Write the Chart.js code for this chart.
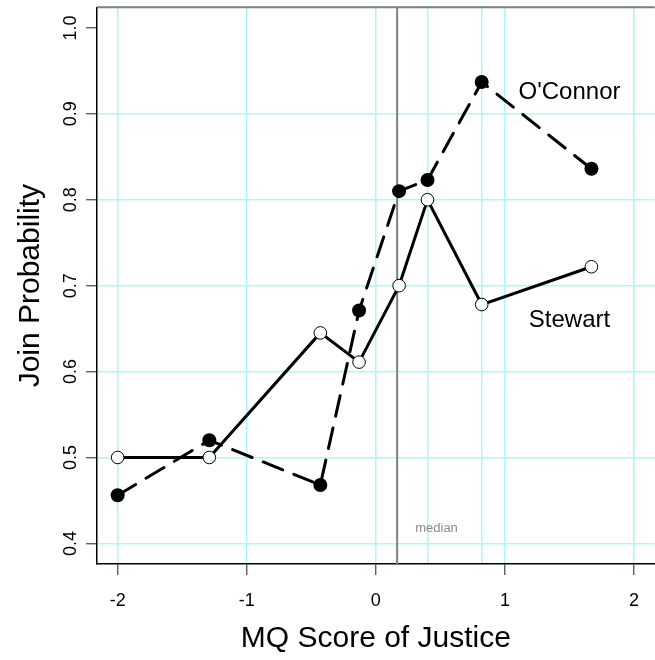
<!DOCTYPE html>
<html><head><meta charset="utf-8">
<script src="https://cdn.jsdelivr.net/npm/chart.js@4/dist/chart.umd.min.js"></script>
<style>html,body{margin:0;padding:0;background:#fff;overflow:hidden;width:655px;height:660px}canvas{display:block}</style>
</head><body>
<canvas id="c" width="662" height="660"></canvas>
<script>
// ---- data ----
const xScores   = [-2.00, -1.29, -0.43, -0.13, 0.18, 0.40, 0.82, 1.67];
const stewart   = [0.500, 0.500, 0.645, 0.611, 0.700, 0.800, 0.678, 0.722];
const oconnor   = [0.456, 0.520, 0.468, 0.671, 0.810, 0.823, 0.937, 0.836];
const xTicks    = [-2, -1, 0, 1, 2];
const xExtraGrid = [0.40, 0.82];
const yTicks    = [0.4, 0.5, 0.6, 0.7, 0.8, 0.9, 1.0];
const yGridMax  = 0.9;
const medianScore = 0.165;
const seriesNames = ["O'Connor", "Stewart"];
const seriesLabelX = [1.5, 1.5];
const seriesLabelY = [0.925, 0.66];
const medianText = "median";
const medianTextPos = [0.47, 0.417];
const xRange = [-2.16, 2.16];
const yRange = [0.376, 1.024];
const xTitle = "MQ Score of Justice";
const yTitle = "Join Probability";

const FONT = '"Liberation Sans", Arial, Helvetica, sans-serif';
const GRID = '#a8fafa';

const toPts = ys => xScores.map((x, i) => ({x, y: ys[i]}));

const overlay = {
  id: 'overlay',
  beforeDatasetsDraw(chart) {
    const {ctx, chartArea: a, scales: {x, y}} = chart;
    ctx.save();
    ctx.strokeStyle = '#7f7f7f';
    ctx.lineWidth = 2;
    ctx.beginPath();
    const mx = x.getPixelForValue(medianScore);
    ctx.moveTo(mx, a.top); ctx.lineTo(mx, a.bottom);
    ctx.moveTo(a.left, a.top); ctx.lineTo(a.right, a.top);
    ctx.stroke();
    ctx.fillStyle = '#8a8a8a';
    ctx.font = '13px ' + FONT;
    ctx.textAlign = 'center'; ctx.textBaseline = 'middle';
    ctx.fillText(medianText, x.getPixelForValue(medianTextPos[0]), y.getPixelForValue(medianTextPos[1]));
    ctx.restore();
  },
  afterDraw(chart) {
    const {ctx, scales: {x, y}} = chart;
    ctx.save();
    ctx.fillStyle = '#000';
    ctx.font = '18px ' + FONT;
    ctx.textAlign = 'center'; ctx.textBaseline = 'middle';
    y.ticks.forEach(t => {
      ctx.save();
      ctx.translate(71, y.getPixelForValue(t.value));
      ctx.rotate(-Math.PI / 2);
      ctx.fillText(t.value.toFixed(1), 0, 0);
      ctx.restore();
    });
    ctx.font = '24px ' + FONT;
    seriesNames.forEach((n, i) => {
      ctx.fillText(n, x.getPixelForValue(seriesLabelX[i]), y.getPixelForValue(seriesLabelY[i]));
    });
    ctx.restore();
  }
};

new Chart(document.getElementById('c'), {
  type: 'scatter',
  data: {
    datasets: [
      {
        label: seriesNames[0], data: toPts(oconnor), showLine: true,
        borderColor: '#000', borderWidth: 3, borderDash: [21, 12], borderCapStyle: 'round',
        pointRadius: 7, pointBackgroundColor: '#000', pointBorderWidth: 0, pointBorderColor: '#000',
        tension: 0, order: 2
      },
      {
        label: seriesNames[1], data: toPts(stewart), showLine: true,
        borderColor: '#000', borderWidth: 3, borderCapStyle: 'round',
        pointRadius: 6.3, pointBackgroundColor: '#fff', pointBorderWidth: 1, pointBorderColor: '#000',
        tension: 0, order: 1
      }
    ]
  },
  options: {
    responsive: false, animation: false, devicePixelRatio: 1,
    layout: {padding: {top: 7, left: 0, right: 0, bottom: 0}},
    plugins: {legend: {display: false}, tooltip: {enabled: false}},
    scales: {
      x: {
        type: 'linear', min: xRange[0], max: xRange[1],
        afterBuildTicks: s => { s.ticks = xTicks.concat(xExtraGrid).map(v => ({value: v})); },
        afterFit: s => { s.height = 96; },
        grid: {
          color: GRID, lineWidth: 1.5, drawTicks: true, tickLength: 11, tickWidth: 1.2,
          tickColor: c => (c.tick && xTicks.includes(c.tick.value)) ? '#444' : 'rgba(0,0,0,0)'
        },
        border: {display: true, color: '#000', width: 1.5},
        ticks: {
          color: '#000', font: {family: FONT, size: 18}, padding: 15, maxRotation: 0,
          callback: v => xTicks.includes(v) ? String(v) : ''
        },
        title: {display: true, text: xTitle, color: '#000', font: {family: FONT, size: 30}, padding: {top: 0, bottom: 3}}
      },
      y: {
        type: 'linear', min: yRange[0], max: yRange[1],
        afterBuildTicks: s => { s.ticks = yTicks.map(v => ({value: v})); },
        afterFit: s => { s.width = 97; },
        grid: {
          color: c => (c.tick && c.tick.value <= yGridMax + 1e-9) ? GRID : 'rgba(0,0,0,0)',
          lineWidth: 1.5, drawTicks: true, tickLength: 11, tickWidth: 1.2, tickColor: '#444'
        },
        border: {display: true, color: '#000', width: 1.5},
        ticks: {display: false},
        title: {display: true, text: yTitle, color: '#000', font: {family: FONT, size: 30}, padding: {top: 13, bottom: 0}}
      }
    }
  },
  plugins: [overlay]
});
</script>
</body></html>
